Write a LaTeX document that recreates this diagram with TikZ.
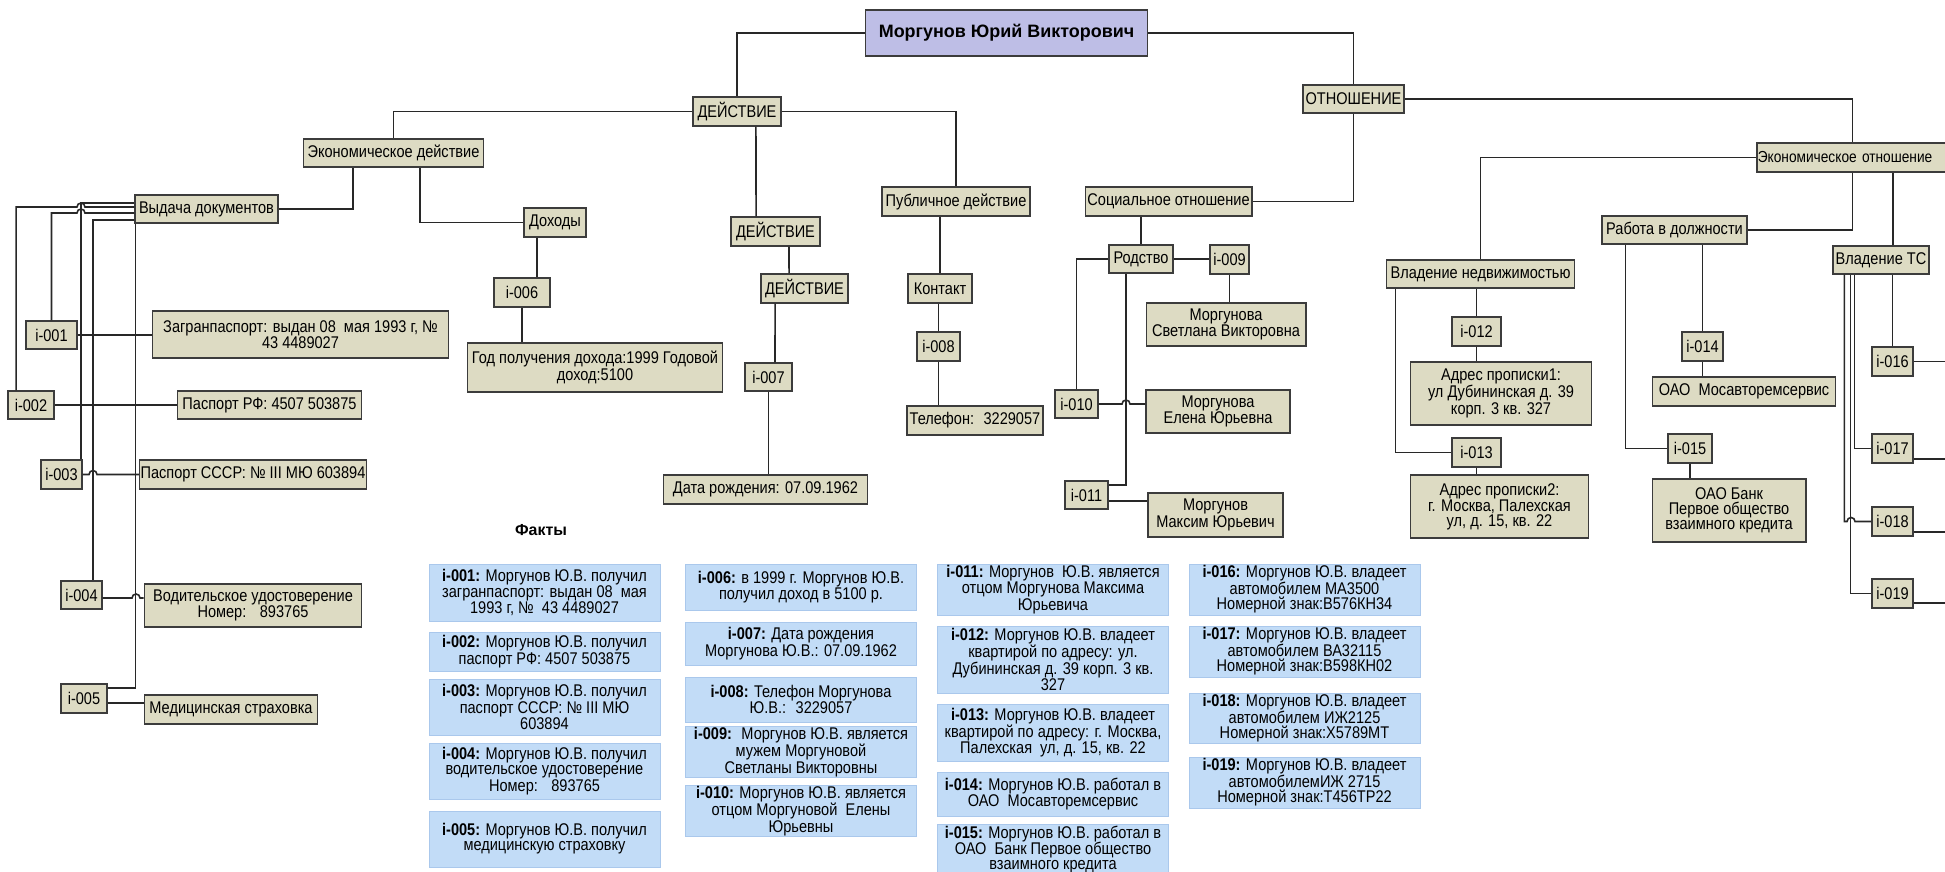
\documentclass[tikz,border=0pt]{standalone}
\usepackage{fontspec}
\setmainfont{Liberation Sans}[FakeStretch=0.86]
\newfontfamily\headfont{Liberation Sans}
\usepackage{tikz}
\definecolor{beige}{RGB}{221,219,195}
\definecolor{boxgray}{RGB}{60,60,60}
\definecolor{linegray}{RGB}{40,40,40}
\definecolor{rootblue}{RGB}{190,190,230}
\definecolor{factblue}{RGB}{194,220,247}
\definecolor{factedge}{RGB}{170,200,236}

\begin{document}
\begin{tikzpicture}[x=1bp, y=-1bp, semithick,
  every node/.style={font=\fontsize{17}{15}\selectfont},
  every edge/.style={draw=linegray, line width=1.6pt}]
\tikzstyle{obj}=[draw=boxgray, fill=beige, line width=1.6pt, inner sep=1pt, align=center]
\tikzstyle{fact}=[fill=factblue, draw=factedge, line width=0.6pt, inner sep=1pt, align=center, minimum width=232]
\tikzstyle{conn}=[draw=linegray, line width=1.6pt]
\tikzstyle{hv}=[to path={-| (\tikztotarget)}]
\tikzstyle{vh}=[to path={|- (\tikztotarget)}]
\tikzset{sz/.style 2 args={minimum width=#1, minimum height=#2}}

\useasboundingbox[fill=white] (0,0) rectangle (1945,872);

\node[obj, sz={283}{46}, fill=rootblue, font=\headfont\fontsize{18}{20}\bfseries\selectfont]	(root)	at (1006.5,33)	{Моргунов Юрий Викторович};
\node[obj, sz={88}{29}]		(act)		at (737,111.5)		{ДЕЙСТВИЕ};
\node[obj, sz={101}{28}]	(rel)		at (1353.5,99)		{ОТНОШЕНИЕ};
\node[obj, sz={181}{28}]	(econact)	at (393.5,153)		{Экономическое действие};
\node[obj, sz={143}{28}]	(docs)		at (206.5,209)		{Выдача документов};
\node[obj, sz={62}{29}]		(income)	at (555,222.5)		{Доходы};
\node[obj, sz={89}{29}]		(act2)		at (775.5,231.5)	{ДЕЙСТВИЕ};
\node[obj, sz={87}{29}]		(act3)		at (804.5,288.5)	{ДЕЙСТВИЕ};
\node[obj, sz={148}{29}]	(pub)		at (956,201.5)		{Публичное действие};
\node[obj, sz={64}{29}]		(contact)	at (940,288.5)		{Контакт};
\node[obj, sz={43}{29}]		(i008)		at (938.5,346.5)	{i-008};
\node[obj, sz={136}{29}]	(phone)		at (975,420.5)		{Телефон:~ 3229057};
\node[obj, sz={56}{29}]		(i006)		at (522,292.5)		{i-006};
\node[obj, sz={256}{49}]	(year)		at (595,367.5)		{Год получения дохода:1999 Годовой\\доход:5100};
\node[obj, sz={47}{28}]		(i007)		at (768.5,377)		{i-007};
\node[obj, sz={205}{29}]	(birth)		at (765.5,489.5)	{Дата рождения: 07.09.1962};

\node[obj, sz={167}{29}]	(social)	at (1168.5,201.5)	{Социальное отношение};
\node[obj, sz={64}{28}]		(kin)		at (1141,259)		{Родство};
\node[obj, sz={39}{29}]		(i009)		at (1229.5,259.5)	{i-009};
\node[obj, sz={160}{43}]	(wife)		at (1226,324.5)		{Моргунова\\Светлана Викторовна};
\node[obj, sz={43}{28}]		(i010)		at (1076.5,404)		{i-010};
\node[obj, sz={144}{43}]	(daughter)	at (1218,411.5)		{Моргунова\\Елена Юрьевна};
\node[obj, sz={43}{28}]		(i011)		at (1086.5,495)		{i-011};
\node[obj, sz={135}{44}]	(son)		at (1215.5,515)		{Моргунов\\Максим Юрьевич};

\node[obj, text width=190, align=left, minimum height=29, anchor=west, font=\fontsize{16}{15}\selectfont]	(ecorel)	at (1756,157.5)	{Экономическое отношение};
\node[obj, sz={189}{28}]	(realty)	at (1480.5,274)		{Владение недвижимостью};
\node[obj, sz={49}{29}]		(i012)		at (1476.5,331.5)	{i-012};
\node[obj, sz={182}{63}]	(addr1)		at (1501,393.5)		{Адрес прописки1:\\ул Дубининская д. 39\\корп. 3 кв. 327};
\node[obj, sz={49}{29}]		(i013)		at (1476.5,452.5)	{i-013};
\node[obj, sz={179}{63}]	(addr2)		at (1499.5,506.5)	{Адрес прописки2:\\г. Москва, Палехская\\ул, д. 15, кв. 22};
\node[obj, sz={145}{28}]	(job)		at (1674.5,230)		{Работа в должности};
\node[obj, sz={41}{29}]		(i014)		at (1702.5,346.5)	{i-014};
\node[obj, sz={184}{29}]	(firm1)		at (1744,391.5)		{ОАО~ Мосавторемсервис};
\node[obj, sz={44}{29}]		(i015)		at (1690,448.5)		{i-015};
\node[obj, sz={154}{63}]	(firm2)		at (1729,510.5)		{ОАО Банк\\Первое общество\\взаимного кредита};
\node[obj, sz={96}{28}]		(cars)		at (1881,260)		{Владение ТС};
\node[obj, sz={41}{29}]		(i016)		at (1892.5,361.5)	{i-016};
\node[obj, sz={41}{29}]		(i017)		at (1892.5,448.5)	{i-017};
\node[obj, sz={41}{29}]		(i018)		at (1892.5,521.5)	{i-018};
\node[obj, sz={41}{29}]		(i019)		at (1892.5,593.5)	{i-019};

\node[obj, sz={51}{28}]		(i001)		at (51.5,335)		{i-001};
\node[obj, sz={297}{47}]	(pass1)		at (300.5,334.5)	{Загранпаспорт: выдан 08~ мая 1993 г, №\\43 4489027};
\node[obj, sz={46}{28}]		(i002)		at (31,405)			{i-002};
\node[obj, sz={185}{28}]	(pass2)		at (269.5,405)		{Паспорт РФ: 4507 503875};
\node[obj, sz={41}{29}]		(i003)		at (61.5,474.5)		{i-003};
\node[obj, sz={226}{29}]	(pass3)		at (253,474.5)		{Паспорт СССР: № III МЮ 603894};
\node[obj, sz={41}{28}]		(i004)		at (81.5,595)		{i-004};
\node[obj, sz={218}{43}]	(licence)	at (253,605.5)		{Водительское удостоверение\\Номер:~~ 893765};
\node[obj, sz={46}{29}]		(i005)		at (84,698.5)		{i-005};
\node[obj, sz={174}{29}]	(insur)		at (231,709.5)		{Медицинская страховка};

\coordinate (rim) at (1960,0);
\coordinate (hopA) at (81,207);
\coordinate (hopB) at (81,213);
\coordinate (hopC) at (93,474.5);
\coordinate (hopD) at (136,598);
\coordinate (hopE) at (1126,404);
\coordinate (hopF) at (1851,521.5);

\path
(root.west) edge[hv] (act.north)
(root.east) edge[hv] (rel.north)
(act.west) edge[hv] (econact.north)
(act.east) edge[hv] (pub.north)
([xshift=19]act.south) edge ([xshift=-19.5]act2.north)
([xshift=13.5]act2.south) edge ([xshift=-15.5]act3.north)
([xshift=-29.5]act3.south) edge ([xshift=6.5]i007.north)
(i007.south) edge (i007.south |- birth.north)
(contact.north) edge (contact.north |- pub.south)
(i008.north) edge (i008.north |- contact.south)
(i008.south) edge (i008.south |- phone.north)
(docs.east) edge[hv] ([xshift=-40.5]econact.south)
([xshift=26.5]econact.south) edge[vh] (income.west)
([xshift=-18]income.south) edge ([xshift=-18]income.south |- i006.north)
(i006.south) edge (i006.south |- year.north)

(rel.south) edge[vh] (social.east)
(rel.east) edge[hv] (ecorel.north)
(kin.north) edge (kin.north |- social.south)
(kin.east) edge (kin.east -| i009.west)
(i009.south) edge (i009.south |- wife.north)
(kin.west) edge[hv] (i010.north)
([xshift=-15]kin.south) edge[vh] ([yshift=10]i011.east)
([yshift=-6]i011.east) edge ([yshift=-6]i011.east -| son.west)

(ecorel.west) edge[hv] (realty.north)
(i012.north) edge (i012.north |- realty.south)
(i012.south) edge (i012.south |- addr1.north)
([xshift=10]realty.south west) edge[vh] (i013.west)
(i013.south) edge (i013.south |- addr2.north)
(ecorel.south) edge[vh] (job.east)
(i014.north) edge (i014.north |- job.south)
(i014.south) edge (i014.south |- firm1.north)
([xshift=24]job.south west) edge[vh] (i015.west)
(i015.south) edge (i015.south |- firm2.north)
([xshift=12]cars.north) edge ([xshift=12]cars.north |- ecorel.south)
(i016.north) edge (i016.north |- cars.south)
([xshift=22]cars.south west) edge[vh] (i017.west)
([xshift=18]cars.south west) edge[vh] (i019.west)
(i016.east) edge (i016.east -| rim)
([yshift=-10.5]i017.east) edge ([yshift=-10.5]i017.east -| rim)
([yshift=-10.5]i018.east) edge ([yshift=-10.5]i018.east -| rim)
([yshift=-9.5]i019.east) edge ([yshift=-9.5]i019.east -| rim)

(i001.east) edge (i001.east -| pass1.west)
(i002.east) edge (i002.east -| pass2.west)
([yshift=6]docs.west) edge[hv] ([xshift=19.5]i003.north)
([yshift=-11]docs.west) edge[hv] ([xshift=11.5]i004.north)
([xshift=1]docs.south west) edge[vh] ([yshift=10.5]i005.east)
([yshift=-4.5]i005.east) edge ([yshift=-4.5]i005.east -| insur.west);

\draw[conn] ([yshift=2]docs.west) -- ([xshift=4]hopA) arc[start angle=0, end angle=-180, radius=4] -| ([xshift=-15]i002.north);
\draw[conn] ([yshift=-4]docs.west) -- ([xshift=4]hopB) arc[start angle=0, end angle=-180, radius=4] -| (i001.north);
\draw[conn] (i003.east) -- ([xshift=-4]hopC) arc[start angle=180, end angle=360, radius=4] -- (i003.east -| pass3.west);
\draw[conn] ([yshift=-3]i004.east) -- ([xshift=-4]hopD) arc[start angle=180, end angle=360, radius=4] -- ([yshift=-3]i004.east -| licence.west);
\draw[conn] (i010.east) -- ([xshift=-4]hopE) arc[start angle=180, end angle=360, radius=4] -- (i010.east -| daughter.west);
\draw[conn] ([xshift=12]cars.south west) |- ([xshift=-4]hopF) arc[start angle=180, end angle=360, radius=4] -- (i018.west);

\node[font=\headfont\fontsize{16}{18}\bfseries\selectfont] (facts) at (541,530) {Факты};

\node[fact, minimum height=57]	(f001) at (544.5,592.5)	{\textbf{i-001:} Моргунов Ю.В. получил\\загранпаспорт: выдан 08~ мая\\1993 г, №~ 43 4489027};
\node[fact, minimum height=39]	(f002) at (544.5,651.5)	{\textbf{i-002:} Моргунов Ю.В. получил\\паспорт РФ: 4507 503875};
\node[fact, minimum height=56]	(f003) at (544.5,707)	{\textbf{i-003:} Моргунов Ю.В. получил\\паспорт СССР: № III МЮ\\603894};
\node[fact, minimum height=56]	(f004) at (544.5,771)	{\textbf{i-004:} Моргунов Ю.В. получил\\водительское удостоверение\\Номер:~~ 893765};
\node[fact, minimum height=56]	(f005) at (544.5,839)	{\textbf{i-005:} Моргунов Ю.В. получил\\медицинскую страховку};
\node[fact, minimum height=46]	(f006) at (801,587)		{\textbf{i-006:} в 1999 г. Моргунов Ю.В.\\получил доход в 5100 р.};
\node[fact, minimum height=43]	(f007) at (801,643.5)	{\textbf{i-007:} Дата рождения\\Моргунова Ю.В.: 07.09.1962};
\node[fact, minimum height=45]	(f008) at (801,699.5)	{\textbf{i-008:} Телефон Моргунова\\Ю.В.:~ 3229057};
\node[fact, minimum height=50]	(f009) at (801,752)		{\textbf{i-009:}~ Моргунов Ю.В. является\\мужем Моргуновой\\Светланы Викторовны};
\node[fact, minimum height=50]	(f010) at (801,811)		{\textbf{i-010:} Моргунов Ю.В. является\\отцом Моргуновой~ Елены\\Юрьевны};
\node[fact, minimum height=51]	(f011) at (1053,589.5)	{\textbf{i-011:} Моргунов~ Ю.В. является\\отцом Моргунова Максима\\Юрьевича};
\node[fact, minimum height=67]	(f012) at (1053,659.5)	{\textbf{i-012:} Моргунов Ю.В. владеет\\квартирой по адресу: ул.\\Дубининская д. 39 корп. 3 кв.\\327};
\node[fact, minimum height=57]	(f013) at (1053,732.5)	{\textbf{i-013:} Моргунов Ю.В. владеет\\квартирой по адресу: г. Москва,\\Палехская~ ул, д. 15, кв. 22};
\node[fact, minimum height=44]	(f014) at (1053,794)	{\textbf{i-014:} Моргунов Ю.В. работал в\\ОАО~ Мосавторемсервис};
\node[fact, minimum height=45]	(f015) at (1053,849.5)	{\textbf{i-015:} Моргунов Ю.В. работал в\\ОАО~ Банк Первое общество\\взаимного кредита};
\node[fact, minimum height=51]	(f016) at (1304.5,589.5)	{\textbf{i-016:} Моргунов Ю.В. владеет\\автомобилем МА3500\\Номерной знак:В576КН34};
\node[fact, minimum height=51]	(f017) at (1304.5,651.5)	{\textbf{i-017:} Моргунов Ю.В. владеет\\автомобилем ВА32115\\Номерной знак:В598КН02};
\node[fact, minimum height=50]	(f018) at (1304.5,718)	{\textbf{i-018:} Моргунов Ю.В. владеет\\автомобилем ИЖ2125\\Номерной знак:Х5789МТ};
\node[fact, minimum height=51]	(f019) at (1304.5,782.5)	{\textbf{i-019:} Моргунов Ю.В. владеет\\автомобилемИЖ 2715\\Номерной знак:Т456ТР22};

\end{tikzpicture}
\end{document}
